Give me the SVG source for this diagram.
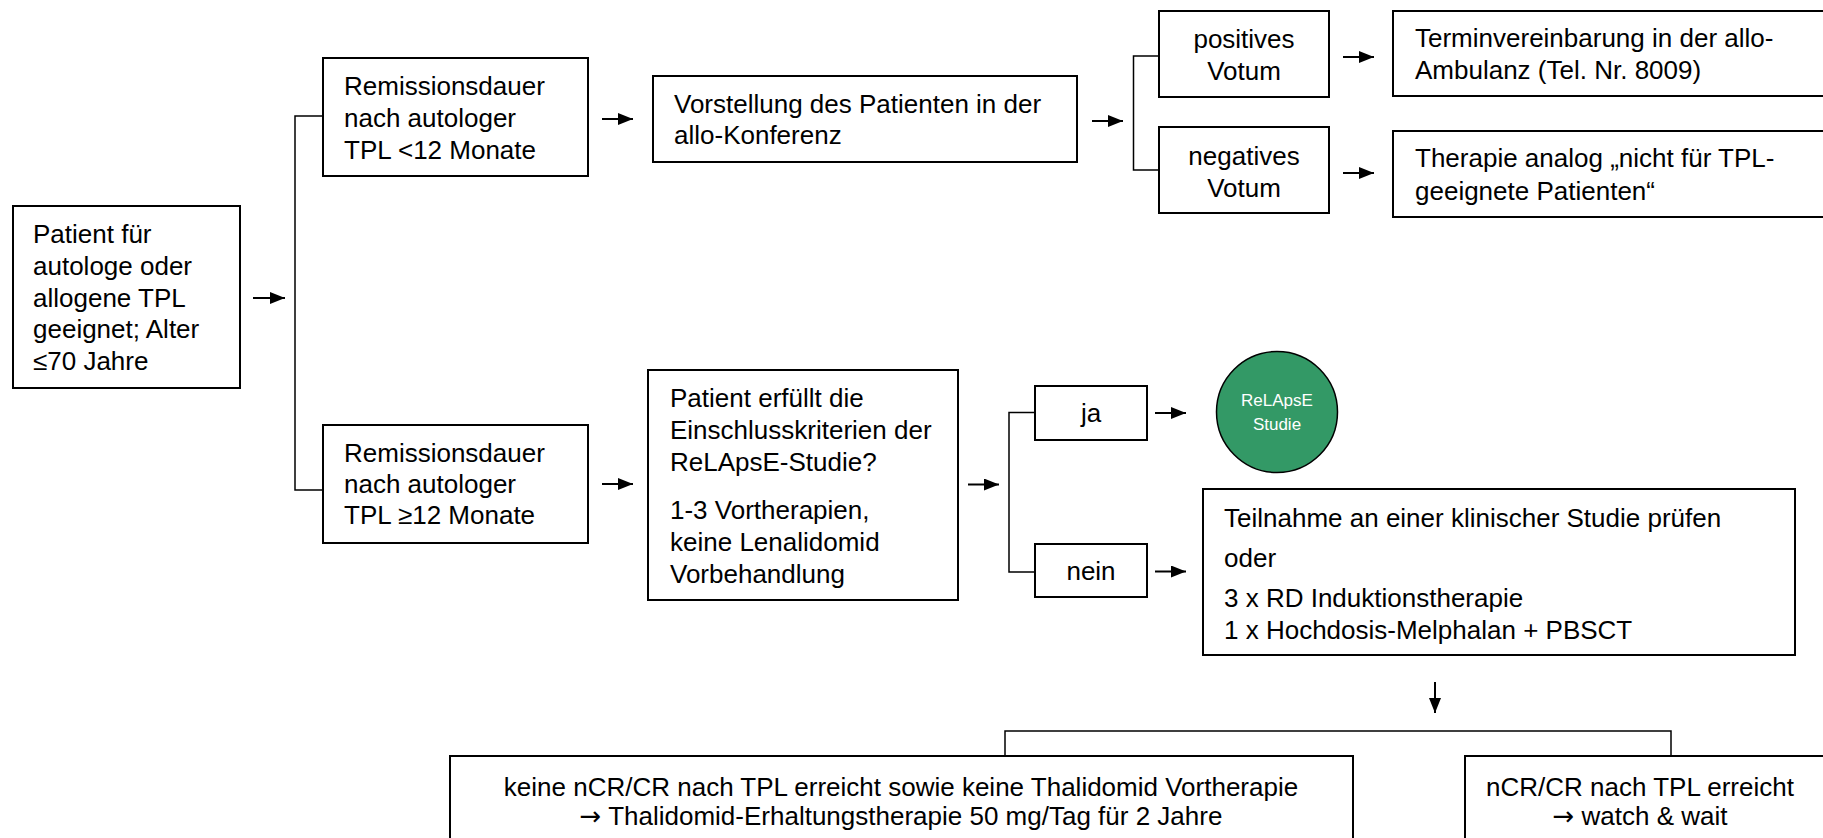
<svg xmlns="http://www.w3.org/2000/svg" width="1823" height="838" viewBox="0 0 1823 838">
<defs>
<style>
.box{fill:#fff;stroke:#000;stroke-width:2}
.t{font-family:"Liberation Sans",Arial,sans-serif;font-size:26px;fill:#000}
.c{text-anchor:middle}
.w{font-family:"Liberation Sans",Arial,sans-serif;font-size:17px;fill:#fff;text-anchor:middle}
.arw{font-family:"DejaVu Sans",sans-serif}
.ln{fill:none;stroke:#000;stroke-width:1.5}
.ar{fill:none;stroke:#000;stroke-width:2;marker-end:url(#ah)}
</style>
<marker id="ah" markerUnits="userSpaceOnUse" markerWidth="15" markerHeight="12" refX="15" refY="6" orient="auto">
<path d="M0,0 L15,6 L0,12 Z" fill="#000"/>
</marker>
</defs>
<rect width="1823" height="838" fill="#fff"/>

<g id="connectors">
<line class="ar" x1="253" y1="298" x2="285" y2="298"/>
<path class="ln" d="M323,116 H295 V490 H323"/>
<line class="ar" x1="602" y1="119" x2="633" y2="119"/>
<line class="ar" x1="602" y1="484" x2="633" y2="484"/>
<line class="ar" x1="1092" y1="121" x2="1123" y2="121"/>
<path class="ln" d="M1159,56 H1133.5 V170 H1159"/>
<line class="ar" x1="1343" y1="57" x2="1374" y2="57"/>
<line class="ar" x1="1343" y1="173" x2="1374" y2="173"/>
<line class="ar" x1="968" y1="484.5" x2="999" y2="484.5"/>
<path class="ln" d="M1035,412.5 H1009 V572 H1035"/>
<line class="ar" x1="1155" y1="413" x2="1186" y2="413"/>
<line class="ar" x1="1155" y1="571.5" x2="1186" y2="571.5"/>
<line class="ar" x1="1435" y1="682" x2="1435" y2="713"/>
<path class="ln" d="M1005,756 V731 H1671 V756"/>
</g>

<g id="patient">
<rect class="box" x="13" y="206" width="227" height="182"/>
<text class="t" x="33" y="243">Patient für</text>
<text class="t" x="33" y="275">autologe oder</text>
<text class="t" x="33" y="307">allogene TPL</text>
<text class="t" x="33" y="338">geeignet; Alter</text>
<text class="t" x="33" y="370">≤70 Jahre</text>
</g>

<g id="remission-kurz">
<rect class="box" x="323" y="58" width="265" height="118"/>
<text class="t" x="344" y="95">Remissionsdauer</text>
<text class="t" x="344" y="127">nach autologer</text>
<text class="t" x="344" y="159">TPL &lt;12 Monate</text>
</g>

<g id="remission-lang">
<rect class="box" x="323" y="425" width="265" height="118"/>
<text class="t" x="344" y="462">Remissionsdauer</text>
<text class="t" x="344" y="493">nach autologer</text>
<text class="t" x="344" y="524">TPL ≥12 Monate</text>
</g>

<g id="vorstellung">
<rect class="box" x="653" y="76" width="424" height="86"/>
<text class="t" x="674" y="113">Vorstellung des Patienten in der</text>
<text class="t" x="674" y="144">allo-Konferenz</text>
</g>

<g id="positiv">
<rect class="box" x="1159" y="11" width="170" height="86"/>
<text class="t c" x="1244" y="48">positives</text>
<text class="t c" x="1244" y="80">Votum</text>
</g>

<g id="negativ">
<rect class="box" x="1159" y="127" width="170" height="86"/>
<text class="t c" x="1244" y="165">negatives</text>
<text class="t c" x="1244" y="197">Votum</text>
</g>

<g id="termin">
<rect class="box" x="1393" y="11" width="450" height="85"/>
<text class="t" x="1415" y="47">Terminvereinbarung in der allo-</text>
<text class="t" x="1415" y="79">Ambulanz (Tel. Nr. 8009)</text>
</g>

<g id="therapie-analog">
<rect class="box" x="1393" y="131" width="450" height="86"/>
<text class="t" x="1415" y="167">Therapie analog „nicht für TPL-</text>
<text class="t" x="1415" y="200">geeignete Patienten“</text>
</g>

<g id="einschluss">
<rect class="box" x="648" y="370" width="310" height="230"/>
<text class="t" x="670" y="407">Patient erfüllt die</text>
<text class="t" x="670" y="439">Einschlusskriterien der</text>
<text class="t" x="670" y="471">ReLApsE-Studie?</text>
<text class="t" x="670" y="519">1-3 Vortherapien,</text>
<text class="t" x="670" y="551">keine Lenalidomid</text>
<text class="t" x="670" y="583">Vorbehandlung</text>
</g>

<g id="ja">
<rect class="box" x="1035" y="386" width="112" height="54"/>
<text class="t c" x="1091" y="422">ja</text>
</g>

<g id="nein">
<rect class="box" x="1035" y="544" width="112" height="53"/>
<text class="t c" x="1091" y="580">nein</text>
</g>

<g id="relapse-studie">
<circle cx="1277" cy="412" r="60.5" fill="#339966" stroke="#000" stroke-width="1.5"/>
<text class="w" x="1277" y="406">ReLApsE</text>
<text class="w" x="1277" y="430">Studie</text>
</g>

<g id="teilnahme">
<rect class="box" x="1203" y="489" width="592" height="166"/>
<text class="t" x="1224" y="527">Teilnahme an einer klinischer Studie prüfen</text>
<text class="t" x="1224" y="567">oder</text>
<text class="t" x="1224" y="607">3 x RD Induktionstherapie</text>
<text class="t" x="1224" y="639">1 x Hochdosis-Melphalan + PBSCT</text>
</g>

<g id="thalidomid">
<rect class="box" x="450" y="756" width="903" height="110"/>
<text class="t c" x="901" y="796">keine nCR/CR nach TPL erreicht sowie keine Thalidomid Vortherapie</text>
<text class="t c" x="901" y="825"><tspan class="arw">→</tspan> Thalidomid-Erhaltungstherapie 50 mg/Tag für 2 Jahre</text>
</g>

<g id="watch-wait">
<rect class="box" x="1465" y="756" width="380" height="110"/>
<text class="t c" x="1640" y="796">nCR/CR nach TPL erreicht</text>
<text class="t c" x="1640" y="825"><tspan class="arw">→</tspan> watch &amp; wait</text>
</g>
</svg>
